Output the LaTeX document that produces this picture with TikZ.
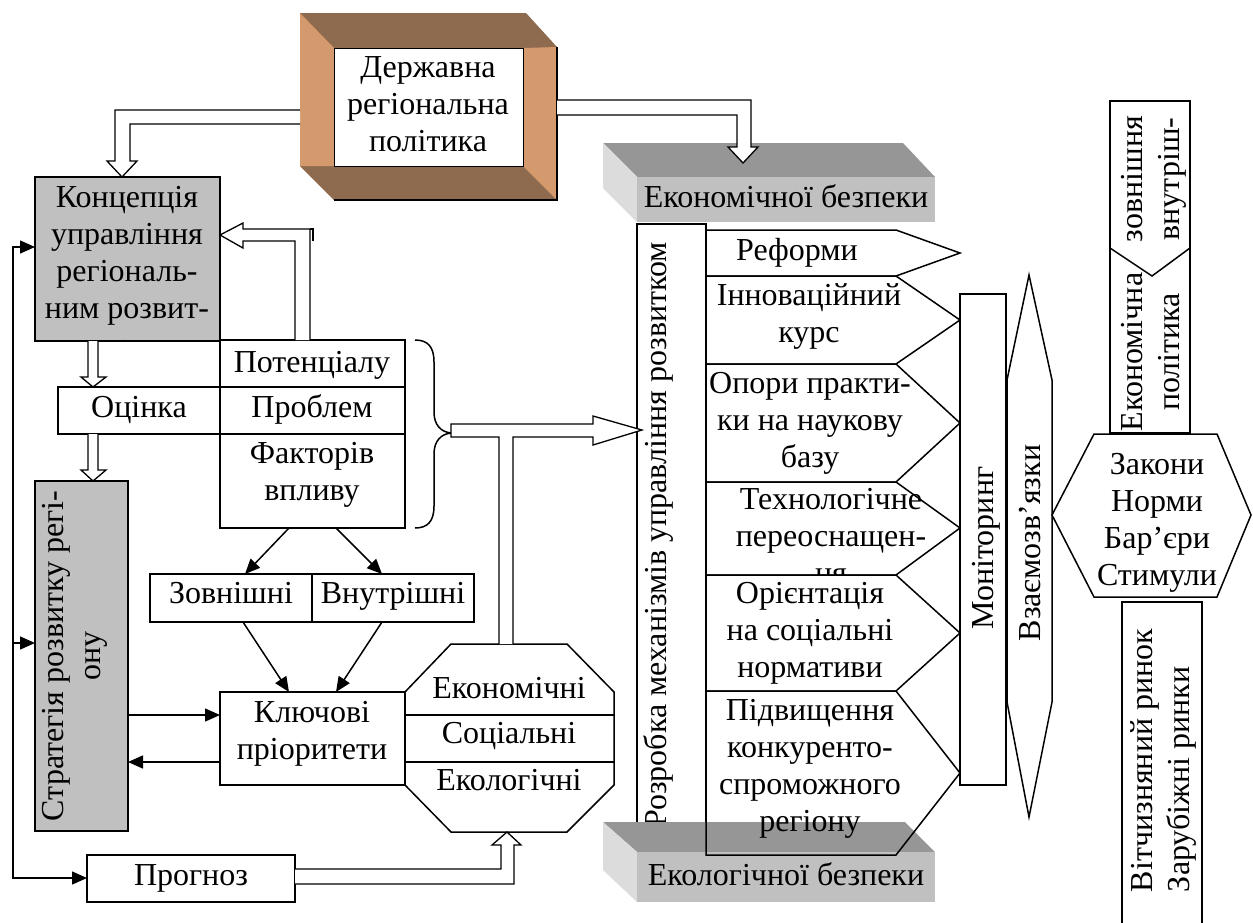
\documentclass[tikz,border=0pt]{standalone}
\usepackage{fontspec}
\setmainfont{Liberation Serif}
\usetikzlibrary{arrows.meta,calc}
\definecolor{boxgray}{HTML}{C0C0C0}
\definecolor{browndark}{HTML}{8E6A4E}
\definecolor{brownlight}{HTML}{D49A6E}
\definecolor{slabtop}{HTML}{969696}
\definecolor{slabfront}{HTML}{C0C0C0}
\definecolor{slabside}{HTML}{DCDCDC}
\newcommand{\dfont}{\fontsize{32}{37}\selectfont}
\newcommand{\tstrut}{\rule{0pt}{29pt}}
\begin{document}
\begin{tikzpicture}[x=1pt,y=-1pt,
  every node/.style={inner sep=0pt, outer sep=0pt, font=\dfont},
  line width=1.5pt, line join=miter,
  box/.style={draw, rectangle, anchor=north west},
  hollow/.style={draw, fill=white, line width=1.3pt},
  conn/.style={line width=1.5pt, -{Triangle[length=15pt,width=13pt]}},
  txt/.style={anchor=base},
  mtxt/.style={anchor=north, align=center},
  rtxt/.style={anchor=north, align=center, rotate=90},
  pent/.style={draw, line width=1.5pt}
]
\useasboundingbox (0,0) rectangle (1253,922);

% ---------- bevelled box: Державна регіональна політика
\fill[browndark] (300,13) -- (526,13) -- (557,47) -- (557,200) -- (334,200) -- (300,166) -- cycle;
\fill[brownlight] (300,13) -- (334,48) -- (334,166) -- (300,166) -- cycle;
\fill[brownlight] (523,48) -- (557,47) -- (557,200) -- (523,166) -- cycle;
\draw (557,47) -- (557,200) -- (334,200);
\node[box, fill=white, minimum width=189pt, minimum height=118pt, line width=0.8pt] (derzh) at (334,48) {};
\node[mtxt] (derzhT) at (428,48) {\tstrut Державна\\регіональна\\політика};

% ---------- slab: Економічної безпеки
\fill[slabtop] (603,143) -- (903,143) -- (935,177) -- (637,177) -- cycle;
\fill[slabside] (603,143) -- (637,177) -- (637,222) -- (603,188) -- cycle;
\fill[slabfront] (637,177) rectangle (935,222);
\node[txt] (econsT) at (786,207) {Економічної безпеки};

% hollow arrows from the bevelled box
\path[hollow] (300,110) -- (115,110) -- (115,161) -- (107,161) -- (122,177) -- (137,161) -- (130,161) -- (130,124) -- (300,124);
\path[hollow] (557,100) -- (751,100) -- (751,147) -- (758,147) -- (743,163) -- (728,147) -- (737,147) -- (737,115) -- (557,115);

% ---------- left part
\node[box, fill=boxgray, minimum width=185pt, minimum height=164pt] (konc) at (35,177) {};
\begin{scope}
\clip (35,177) rectangle (220,341);
\node[mtxt] (koncT) at (127,178) {\tstrut Концепція\\управління\\регіональ-\\ним розвит-\\ком};
\end{scope}

\node[box, minimum width=185pt, minimum height=188pt] (pot) at (220,340) {};
\draw (220,387) -- (405,387);
\draw (220,434) -- (405,434);
\node[txt] (potT) at (312,372) {Потенціалу};
\node[txt] (probT) at (312,417) {Проблем};
\node[mtxt] (faktT) at (312,434) {\tstrut Факторів\\впливу};

\node[box, minimum width=162pt, minimum height=47pt] (ocin) at (58,387) {};
\node[txt] (ocinT) at (139,417) {Оцінка};

\node[box, fill=boxgray, minimum width=93pt, minimum height=350pt] (strat) at (35,481) {};
\node[rtxt] (stratT) at (34,656) {\tstrut Стратегія розвитку регі-\\ону};

\node[box, minimum width=162pt, minimum height=48pt] (zovn) at (150,574) {};
\node[box, minimum width=162pt, minimum height=48pt] (vnut) at (312,574) {};
\node[txt] (zovnT) at (231,603) {Зовнішні};
\node[txt] (vnutT) at (393,603) {Внутрішні};

\node[box, minimum width=185pt, minimum height=93pt] (klyuch) at (220,692) {};
\node[mtxt] (klyuchT) at (312,693) {\tstrut Ключові\\пріоритети};

\node[box, minimum width=208pt, minimum height=47pt] (progn) at (87,855) {};
\node[txt] (prognT) at (191,885) {Прогноз};

% octagon
\draw[fill=white] (451,644) -- (567,644) -- (614,692) -- (614,785) -- (567,832) -- (451,832) -- (405,785) -- (405,692) -- cycle;
\coordinate (octtop) at (506,644);
\coordinate (octbot) at (507,832);
\draw (405,715) -- (614,715);
\draw (405,762) -- (614,762);
\node[txt] (ekonT) at (509,698) {Економічні};
\node[txt] (socT) at (509,743) {Соціальні};
\node[txt] (ekolT) at (509,790) {Екологічні};

% hollow arrows on the left
\path[hollow] (295,340) -- (295,241) -- (243,241) -- (243,248) -- (220,235) -- (243,223) -- (243,229) -- (310,229) -- (310,340);
\draw[line width=1.5pt] (310,229) -- (313,229) -- (313,241);
\path[hollow] (88,341) -- (88,377) -- (81,377) -- (93,387) -- (106,377) -- (98,377) -- (98,341);
\path[hollow] (88,434) -- (88,470) -- (81,470) -- (93,481) -- (106,470) -- (98,470) -- (98,434);
\path[hollow] (295,869) -- (501,869) -- (501,845) -- (492,845) -- (507,832) -- (521,845) -- (514,845) -- (514,884) -- (295,884);

% brace
\draw[line width=1.5pt] (415,340) .. controls (428,340) and (434,347) .. (434,362) -- (434,412)
  .. controls (434,425) and (441,432) .. (451,433) .. controls (441,434) and (434,441) .. (434,454)
  -- (434,506) .. controls (434,521) and (428,528) .. (415,528);

% thin connectors
\draw[conn] (pot.south -| 289,0) -- (zovn.north -| 245,0);
\draw[conn] (pot.south -| 336,0) -- (vnut.north -| 382,0);
\draw[conn] (zovn.south -| 243,0) -- (klyuch.north -| 289,0);
\draw[conn] (vnut.south -| 382,0) -- (klyuch.north -| 336,0);
\draw[conn] (strat.east |- 0,715) -- (klyuch.west |- 0,715);
\draw[conn] (klyuch.west |- 0,762) -- (strat.east |- 0,762);
\coordinate (fbtop) at (13,247);
\coordinate (fbbot) at (13,878);
\coordinate (fbmid) at (13,643);
\draw[line width=1.5pt, {Triangle[length=15pt,width=13pt]}-{Triangle[length=15pt,width=13pt]}]
  (konc.west |- fbtop) -- (fbtop) -- (fbbot) -- (progn.west |- fbbot);
\draw[conn] (fbmid) -- (strat.west |- fbmid);

% ---------- middle: Розробка
\node[box, fill=white, minimum width=69pt, minimum height=622pt] (rozr) at (637,224) {};
\node[anchor=base, rotate=90] (rozrT) at (666,535) {Розробка механізмів управління розвитком};

% slab: Екологічної безпеки
\fill[slabtop] (603,822) -- (905,822) -- (935,852) -- (637,852) -- cycle;
\fill[slabside] (603,822) -- (637,852) -- (637,902) -- (603,870) -- cycle;
\fill[slabfront] (637,852) rectangle (935,902);
\node[txt] (ecolsT) at (786,885) {Екологічної безпеки};

% hollow arrow from brace to Розробка (with branch from octagon)
\path[hollow] (499,644) -- (499,437) -- (451,437) -- (451,424) -- (593,424) -- (593,416) -- (642,430) -- (593,445) -- (593,437) -- (513,437) -- (513,644);

% pentagons
\draw[pent] (706,230) -- (896,230) -- (960,253) -- (896,276) -- (706,276) -- cycle;
\draw[pent] (706,276) -- (896,276) -- (960,320) -- (896,364) -- (706,364) -- cycle;
\draw[pent] (706,364) -- (896,364) -- (960,423) -- (896,482) -- (706,482) -- cycle;
\draw[pent] (706,482) -- (896,482) -- (960,528) -- (896,575) -- (706,575) -- cycle;
\draw[pent] (706,575) -- (896,575) -- (960,633) -- (896,691) -- (706,691) -- cycle;
\draw[pent] (706,691) -- (896,691) -- (960,773) -- (896,855) -- (706,855) -- cycle;
\node[txt] (refT) at (797,260) {Реформи};
\node[mtxt] (innT) at (809,276) {\tstrut Інноваційний\\курс};
\node[mtxt] (oporT) at (810,364) {\tstrut Опори практи-\\ки на наукову\\базу};
\begin{scope}
\clip (706,482) rectangle (1000,575);
\node[mtxt] (techT) at (831,480) {\tstrut Технологічне\\переоснащен-\\ня};
\end{scope}
\node[mtxt] (orT) at (810,574) {\tstrut Орієнтація\\на соціальні\\нормативи};
\node[mtxt] (pidT) at (810,691) {\tstrut Підвищення\\конкуренто-\\спроможного\\регіону};

% Моніторинг
\node[box, fill=white, minimum width=46pt, minimum height=491pt] (monit) at (960,294) {};
\node[anchor=base, rotate=90] (monitT) at (993,548) {Моніторинг};

% Взаємозв'язки
\draw[fill=white] (1029,275) -- (1052,380) -- (1052,702) -- (1029,817) -- (1007,702) -- (1007,380) -- cycle;
\node[anchor=base, rotate=90] (vzT) at (1040,543) {Взаємозв’язки};

% ---------- right column
\node[box, minimum width=80pt, minimum height=332pt] (epol) at (1110,101) {};
\draw (1110,248) -- (1152,276) -- (1190,248);
\node[rtxt] (epolUpT) at (1113,179) {\tstrut зовнішня\\внутріш-};
\node[rtxt] (epolT) at (1113,352) {\tstrut Економічна\\політика};

\draw[fill=white] (1094,434) -- (1217,434) -- (1251,515) -- (1217,597) -- (1094,597) -- (1052,515) -- cycle;
\node[mtxt] (hexT) at (1157,445) {\tstrut Закони\\Норми\\Бар’єри\\Стимули};

\node[box, minimum width=80pt, minimum height=340pt] (ryn) at (1122,602) {};
\node[anchor=north west, align=left, rotate=90] (rynT) at (1123,892) {\tstrut Вітчизняний ринок\\Зарубіжні ринки};

\end{tikzpicture}
\end{document}
